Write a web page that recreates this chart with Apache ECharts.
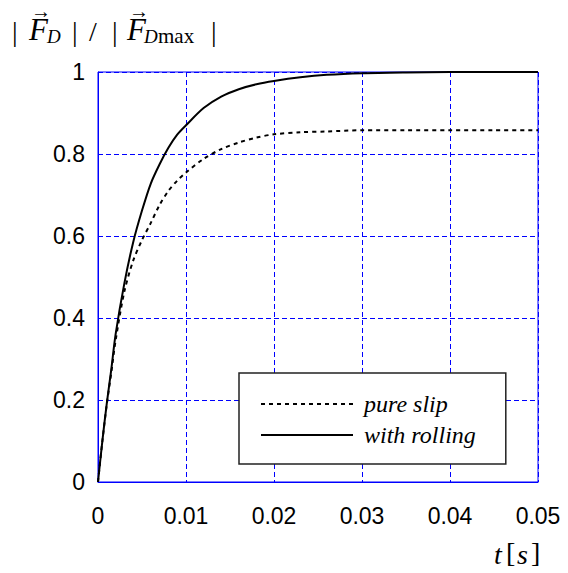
<!DOCTYPE html>
<html>
<head>
<meta charset="utf-8">
<script src="https://cdn.jsdelivr.net/npm/echarts@6/dist/echarts.min.js"></script>
<style>
  html, body { margin: 0; padding: 0; background: #fff; }
  #chart { width: 568px; height: 573px; }
</style>
</head>
<body>
<div id="chart"></div>
<script>
// time samples [s]
const tValues = [0, 0.0005, 0.001, 0.0015, 0.002, 0.003, 0.004, 0.005, 0.006, 0.007,
  0.008, 0.009, 0.010, 0.012, 0.014, 0.016, 0.018, 0.020, 0.023, 0.026,
  0.030, 0.035, 0.040, 0.045, 0.050]
// |F_D| / |F_D max|
const pureSlip = [0, 0.10, 0.19, 0.265, 0.345, 0.465, 0.54, 0.59, 0.632, 0.676,
  0.71, 0.735, 0.755, 0.788, 0.812, 0.828, 0.840, 0.848, 0.853, 0.855,
  0.858, 0.858, 0.858, 0.858, 0.858]
const withRolling = [0, 0.101, 0.192, 0.273, 0.36, 0.485, 0.585, 0.662, 0.728, 0.775,
  0.815, 0.847, 0.870, 0.912, 0.940, 0.958, 0.970, 0.978, 0.987, 0.993,
  0.997, 0.999, 1.0, 1.0, 1.0]
const seriesNames = ['pure slip', 'with rolling']

const pairs = vals => tValues.map((t, i) => [t, vals[i]])

const chart = echarts.init(document.getElementById('chart'), null, { renderer: 'svg' })

const serif = 'Liberation Serif'
const blue = '#0000ff'

// title pieces (text only), lh = line height of the text box
function txt(x, y, s, size, italic, lh) {
  return {
    type: 'text', left: x, top: y,
    style: {
      text: s, font: (italic ? 'italic ' : '') + size + 'px "' + serif + '"',
      lineHeight: lh || size, fill: '#000'
    }
  }
}

// grid 440 x 410 so every grid line falls on a whole pixel
const gridLine = { show: true, lineStyle: { color: blue, type: [5, 3], width: 1 } }

chart.setOption({
  animation: false,
  grid: { left: 98, right: 30, top: 72, bottom: 91, show: true, borderColor: blue, borderWidth: 1 },
  xAxis: {
    type: 'value', min: 0, max: 0.05, interval: 0.01,
    axisLine: { show: true, lineStyle: { color: blue } },
    axisTick: { show: false },
    axisLabel: { color: '#000', fontFamily: 'Liberation Sans', fontSize: 23, margin: 22 },
    splitLine: gridLine
  },
  yAxis: {
    type: 'value', min: 0, max: 1, interval: 0.2,
    axisLine: { show: true, lineStyle: { color: blue } },
    axisTick: { show: false },
    axisLabel: { color: '#000', fontFamily: 'Liberation Sans', fontSize: 23, margin: 13 },
    splitLine: gridLine
  },
  legend: {
    orient: 'vertical', left: 239, top: 373,
    padding: [19, 30, 17, 21],
    itemGap: 7, itemWidth: 92, itemHeight: 14,
    itemStyle: { opacity: 0 },
    backgroundColor: '#fff', borderColor: '#222', borderWidth: 1.5,
    textStyle: {
      fontFamily: serif, fontStyle: 'italic', fontSize: 24, lineHeight: 22,
      color: '#000', padding: [0, 0, 0, 6]
    },
    data: seriesNames
  },
  graphic: [
    txt(12, 17, '|', 28, false, 22),
    txt(29, 14, 'F', 31, true, 24),
    txt(31, 1, '\u2192', 20, false, 10),
    txt(47, 27, 'D', 19, true, 14),
    txt(72, 17, '|', 28, false, 22),
    txt(89, 17, '/', 28, false, 22),
    txt(112, 17, '|', 28, false, 22),
    txt(127, 14, 'F', 31, true, 24),
    txt(129, 1, '\u2192', 20, false, 10),
    txt(144, 27, 'D', 19, true, 14),
    txt(158, 25, 'max', 21, false, 14),
    txt(211, 17, '|', 28, false, 22),
    txt(494, 540, 't', 28, true),
    txt(506, 538, '[', 28, false),
    txt(517, 540, 's', 28, true),
    txt(531, 538, ']', 28, false)
  ],
  series: [
    {
      name: seriesNames[0], type: 'line', data: pairs(pureSlip),
      showSymbol: false, symbol: 'none', smooth: 0.3,
      lineStyle: { color: '#000', width: 2, type: [4, 4] },
      itemStyle: { color: '#000' }
    },
    {
      name: seriesNames[1], type: 'line', data: pairs(withRolling),
      showSymbol: false, symbol: 'none', smooth: 0.3,
      lineStyle: { color: '#000', width: 2 },
      itemStyle: { color: '#000' }
    }
  ]
})
</script>
</body>
</html>
